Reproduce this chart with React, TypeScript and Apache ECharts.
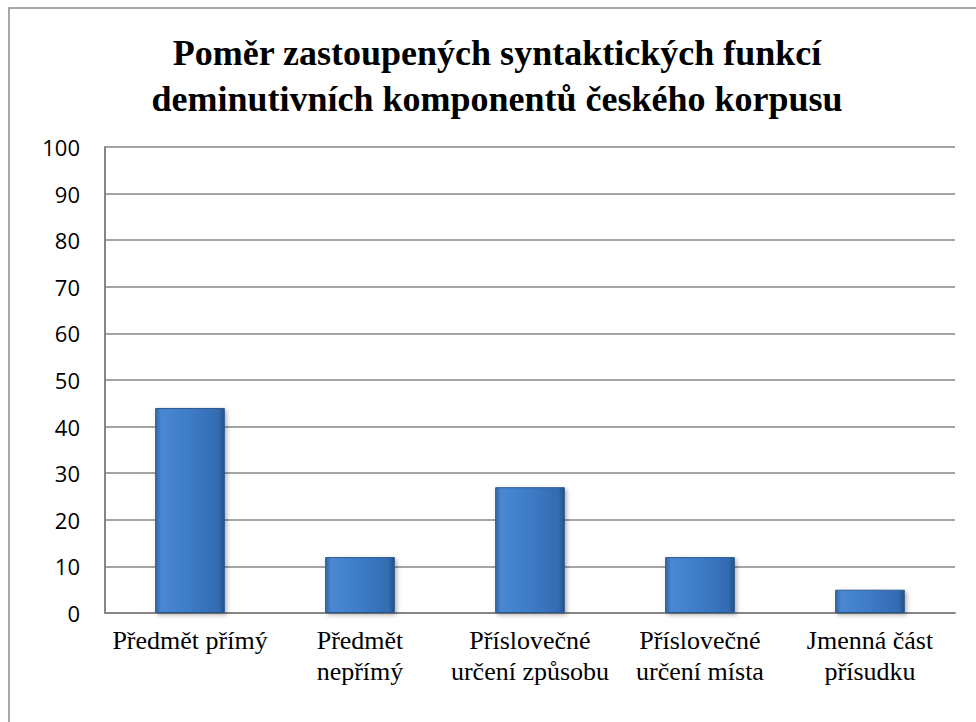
import React, { useEffect, useRef } from "react";
import * as echarts from "echarts";

const categories = [
  "Předmět přímý",
  "Předmět\nnepřímý",
  "Příslovečné\nurčení způsobu",
  "Příslovečné\nurčení místa",
  "Jmenná část\npřísudku",
];
const values = [44, 12, 27, 12, 5];
const titleText = "Poměr zastoupených syntaktických funkcí\ndeminutivních komponentů českého korpusu";

export default function App() {
  const ref = useRef<HTMLDivElement>(null);
  useEffect(() => {
    if (!ref.current) return;
    const chart = echarts.init(ref.current, null, { renderer: "svg" });
    chart.setOption({
      animation: false,
      backgroundColor: "#ffffff",
      title: {
        text: titleText,
        left: 492,
        textAlign: "center",
        top: 25,
        textStyle: {
          fontFamily: "Liberation Serif",
          fontWeight: "bold",
          fontSize: 36,
          lineHeight: 46,
          color: "#000000",
        },
      },
      graphic: [
        {
          type: "rect",
          shape: { x: 9, y: 8, width: 1200, height: 1200 },
          style: { fill: "none", stroke: "#8c8c8c", lineWidth: 1.5 },
          silent: true,
        },
      ],
      grid: { left: 105, right: 21, top: 147, bottom: 109 },
      xAxis: {
        type: "category",
        data: categories,
        axisLine: { show: true, lineStyle: { color: "#868686", width: 2 } },
        axisTick: { show: false },
        axisLabel: {
          fontFamily: "Liberation Serif",
          fontSize: 26,
          lineHeight: 31,
          color: "#000000",
          margin: 12,
          interval: 0,
        },
      },
      yAxis: {
        type: "value",
        min: 0,
        max: 100,
        interval: 10,
        axisLine: { show: true, lineStyle: { color: "#868686", width: 2 } },
        axisTick: { show: false },
        splitLine: { show: true, lineStyle: { color: "#868686", width: 1.5 } },
        axisLabel: {
          fontFamily: "Open Sans",
          fontSize: 22,
          color: "#000000",
          margin: 25,
        },
      },
      series: [
        {
          type: "bar",
          data: values,
          barWidth: "41%",
          itemStyle: {
            color: new echarts.graphic.LinearGradient(0, 0, 1, 0, [
              { offset: 0, color: "#3566a8" },
              { offset: 0.08, color: "#4a88d4" },
              { offset: 0.5, color: "#3d7bc6" },
              { offset: 0.92, color: "#336bb0" },
              { offset: 1, color: "#254f85" },
            ]),
            borderColor: "#2c5a94",
            borderWidth: 1,
            shadowColor: "rgba(0,0,0,0.3)",
            shadowBlur: 4,
            shadowOffsetX: 2,
            shadowOffsetY: 2,
          },
        },
      ],
    });
    return () => chart.dispose();
  }, []);
  return (
    <div
      ref={ref}
      style={{ position: "absolute", left: 0, top: 0, width: 976, height: 722 }}
    />
  );
}
